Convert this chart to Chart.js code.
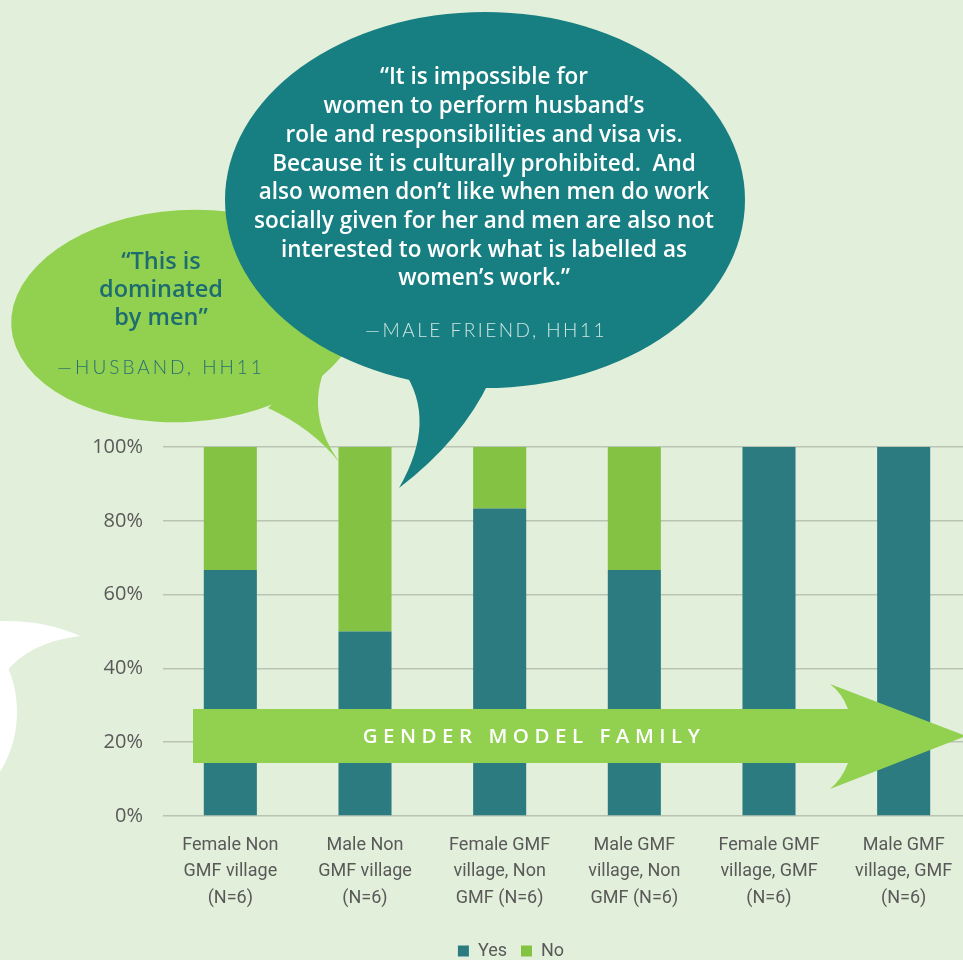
<!DOCTYPE html>
<html>
<head>
<meta charset="utf-8">
<script src="https://cdn.jsdelivr.net/npm/chart.js@4.4.0/dist/chart.umd.min.js"></script>
<style>
  html, body { margin: 0; padding: 0; background: #e2efda; overflow: hidden; }
  #wrap { width: 975px; height: 960px; }
</style>
</head>
<body>
<div id="wrap"><canvas id="genderChart"></canvas></div>
<script>
const categories = [
  ["Female Non", "GMF village", "(N=6)"],
  ["Male Non", "GMF village", "(N=6)"],
  ["Female GMF", "village, Non", "GMF (N=6)"],
  ["Male GMF", "village, Non", "GMF (N=6)"],
  ["Female GMF", "village, GMF", "(N=6)"],
  ["Male GMF", "village, GMF", "(N=6)"]
];
const yesValues = [66.7, 50, 83.3, 66.7, 100, 100];
const noValues = [33.3, 50, 16.7, 33.3, 0, 0];
const yTicks = [0, 20, 40, 60, 80, 100];

const husbandQuote = ["\u201CThis is", "dominated", "by men\u201D"];
const husbandSource = "\u2014HUSBAND, HH11";
const friendQuote = [
  "\u201CIt is impossible for",
  "women to perform husband\u2019s",
  "role and responsibilities and visa vis.",
  "Because it is culturally prohibited.  And",
  "also women don\u2019t like when men do work",
  "socially given for her and men are also not",
  "interested to work what is labelled as",
  "women\u2019s work.\u201D"
];
const friendSource = "\u2014MALE FRIEND, HH11";
const arrowText = "GENDER MODEL FAMILY";

// speech bubbles and the arrow, painted over the bars
const decorations = {
  id: "decorations",
  afterDraw(chart) {
    const ctx = chart.ctx;
    ctx.save();

    // white bubble peeking in from the left
    ctx.fillStyle = "#ffffff";
    ctx.beginPath();
    ctx.ellipse(-60, 712, 77, 95, 0, 0, Math.PI * 2);
    ctx.fill();
    ctx.beginPath();
    ctx.moveTo(0, 621);
    ctx.quadraticCurveTo(45, 620, 80, 636);
    ctx.quadraticCurveTo(30, 642, 6, 672);
    ctx.lineTo(0, 680);
    ctx.closePath();
    ctx.fill();

    // green bubble
    ctx.fillStyle = "#92d050";
    ctx.beginPath();
    ctx.ellipse(185, 316, 174, 106, -0.06, 0, Math.PI * 2);
    ctx.fill();
    ctx.beginPath();
    ctx.moveTo(268, 408);
    ctx.quadraticCurveTo(312, 428, 340, 463);
    ctx.quadraticCurveTo(298, 405, 336, 348);
    ctx.closePath();
    ctx.fill();

    // teal bubble
    ctx.fillStyle = "#177f81";
    ctx.beginPath();
    ctx.ellipse(485, 200, 260, 188, 0, 0, Math.PI * 2);
    ctx.fill();
    ctx.beginPath();
    ctx.moveTo(403, 370);
    ctx.quadraticCurveTo(438, 420, 399, 488);
    ctx.quadraticCurveTo(462, 440, 490, 380);
    ctx.closePath();
    ctx.fill();

    // arrow
    ctx.fillStyle = "#92d050";
    ctx.beginPath();
    ctx.moveTo(193, 709);
    ctx.lineTo(848, 709);
    ctx.quadraticCurveTo(842, 693, 830, 684);
    ctx.lineTo(966, 736);
    ctx.lineTo(830, 789);
    ctx.quadraticCurveTo(842, 779, 848, 763);
    ctx.lineTo(193, 763);
    ctx.closePath();
    ctx.fill();

    ctx.textAlign = "center";
    ctx.textBaseline = "middle";

    ctx.fillStyle = "#ffffff";
    ctx.font = "600 20.5px 'Open Sans'";
    ctx.letterSpacing = "5.5px";
    ctx.fillText(arrowText, 534, 737);

    // teal bubble text
    ctx.letterSpacing = "0px";
    ctx.font = "600 22.5px 'Open Sans'";
    friendQuote.forEach((line, i) => ctx.fillText(line, 484, 78 + i * 28.7));
    ctx.fillStyle = "#cfe6e3";
    ctx.font = "300 19px Lato";
    ctx.letterSpacing = "2.5px";
    ctx.fillText(friendSource, 486, 331);

    // green bubble text
    ctx.letterSpacing = "0px";
    ctx.fillStyle = "#1c6c70";
    ctx.font = "600 23.5px 'Open Sans'";
    husbandQuote.forEach((line, i) => ctx.fillText(line, 161, 262 + i * 28));
    ctx.fillStyle = "#2a6e73";
    ctx.font = "300 19px Lato";
    ctx.letterSpacing = "3px";
    ctx.fillText(husbandSource, 161, 368);

    ctx.restore();
  }
};

const labelFont = "Roboto, sans-serif";

new Chart(document.getElementById("genderChart"), {
  type: "bar",
  data: {
    labels: categories,
    datasets: [
      { label: "Yes", data: yesValues, backgroundColor: "#2b7b80" },
      { label: "No", data: noValues, backgroundColor: "#84c244" }
    ]
  },
  options: {
    responsive: true,
    maintainAspectRatio: false,
    animation: false,
    layout: { padding: { top: 447, left: 51, right: 4, bottom: -10 } },
    datasets: { bar: { categoryPercentage: 1, barPercentage: 0.394 } },
    scales: {
      x: {
        stacked: true,
        grid: { display: false },
        border: { display: false },
        ticks: {
          color: "#595959",
          font: { family: labelFont, size: 18, lineHeight: 1.48 },
          padding: 8,
          maxRotation: 0,
          autoSkip: false
        },
        afterFit(scale) { scale.height = 112; }
      },
      y: {
        stacked: true,
        min: 0,
        max: 100,
        grid: { color: "#b9c4b3", lineWidth: 1.5, drawTicks: false },
        border: { display: false },
        ticks: {
          padding: 20,
          color: "#595959",
          font: { family: "'Open Sans'", size: 20 },
          callback: v => v + "%"
        },
        afterBuildTicks(scale) { scale.ticks = yTicks.map(v => ({ value: v })); },
        afterFit(scale) { scale.width = 112; }
      }
    },
    plugins: {
      legend: {
        position: "bottom",
        labels: {
          boxWidth: 11,
          boxHeight: 11,
          padding: 14,
          color: "#595959",
          font: { family: labelFont, size: 18 }
        }
      },
      tooltip: { enabled: false }
    }
  },
  plugins: [decorations]
});
</script>
</body>
</html>
